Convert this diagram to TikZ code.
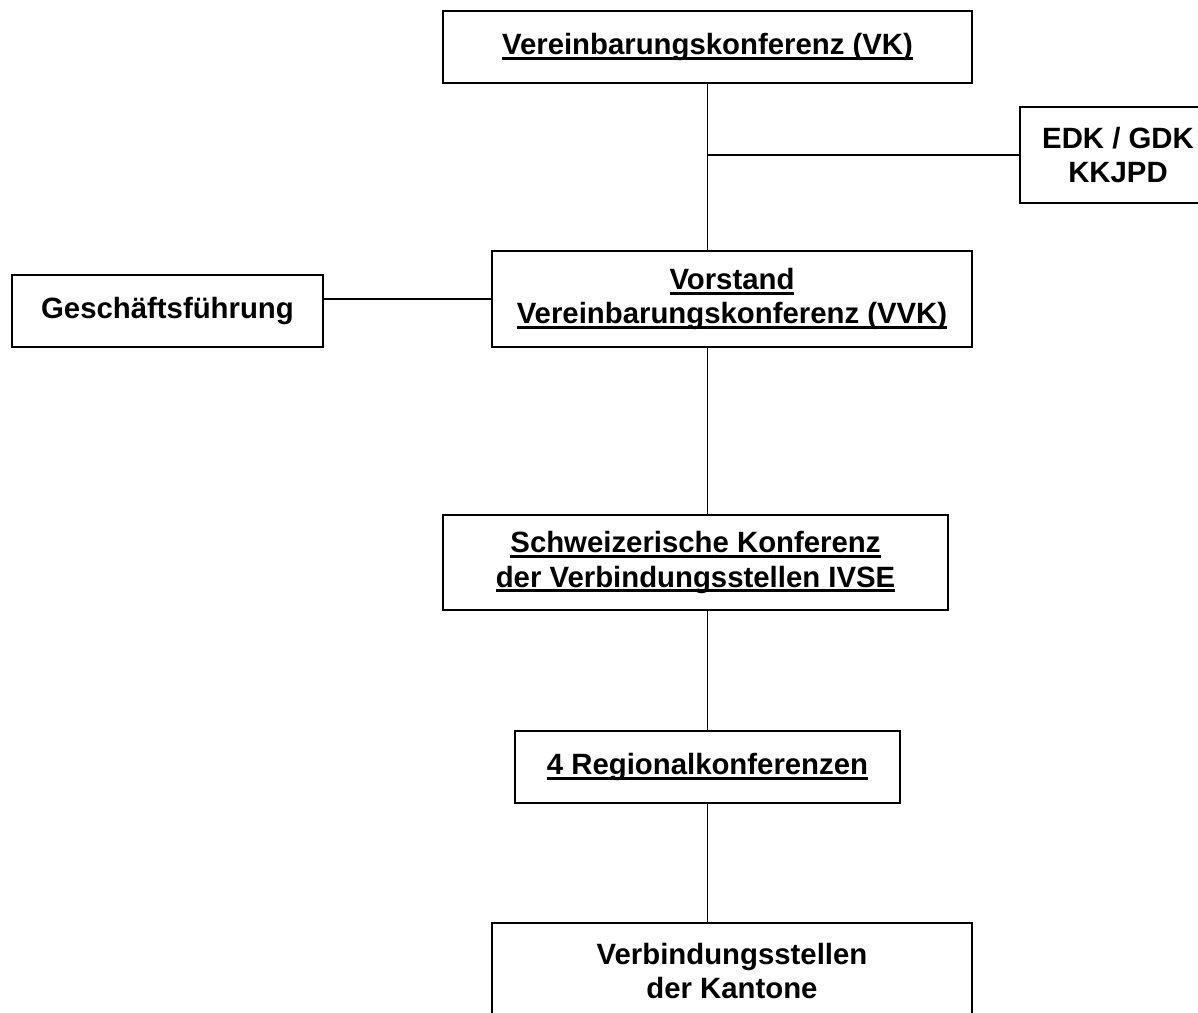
\documentclass[tikz,border=0pt]{standalone}
\usepackage{fontspec}
\setmainfont{Liberation Sans}
\newsavebox{\ulsave}
\newcommand{\undl}[1]{\sbox{\ulsave}{#1}\rlap{\rule[-0.18em]{\wd\ulsave}{0.11em}}\usebox{\ulsave}}

\begin{document}
\begin{tikzpicture}[x=0.02cm, y=-0.02cm,
  orgbox/.style={draw, line width=1.5pt, align=center, inner sep=0pt,
    font=\fontsize{16.7}{19.4}\selectfont\bfseries},
  link/.style={line width=1.1pt}]
\clip (0,0) rectangle (1198,1013);
% Boxes
\node[orgbox, minimum width=529*0.02cm, minimum height=72*0.02cm] (vk) at (707.5,47) {\undl{Vereinbarungskonferenz (VK)}};
\node[orgbox, minimum width=196*0.02cm, minimum height=96*0.02cm] (edk) at (1118,155) {EDK / GDK\\KKJPD};
\node[orgbox, minimum width=480*0.02cm, minimum height=96*0.02cm] (vvk) at (732,299) {\undl{Vorstand}\\\undl{Vereinbarungskonferenz (VVK)}};
\node[orgbox, minimum width=311*0.02cm, minimum height=72*0.02cm] (gf) at (167.5,311) {Geschäftsführung};
\node[orgbox, minimum width=505*0.02cm, minimum height=95*0.02cm] (ivse) at (695.5,562.5) {\undl{Schweizerische Konferenz}\\\undl{der Verbindungsstellen IVSE}};
\node[orgbox, minimum width=385*0.02cm, minimum height=72*0.02cm] (reg) at (707.5,767) {\undl{4 Regionalkonferenzen}};
\node[orgbox, minimum width=480*0.02cm, minimum height=96*0.02cm] (vs) at (732,971) {Verbindungsstellen\\der Kantone};

% Lines
\draw[link] (vk.south) -- (vk.south |- vvk.north);
\draw[link] (vk.south |- edk.west) -- (edk.west);
\draw[link] (vvk.west) -- (vvk.west -| gf.east);
\draw[link] (vk.south |- vvk.south) -- (vk.south |- ivse.north);
\draw[link] (vk.south |- ivse.south) -- (vk.south |- reg.north);
\draw[link] (reg.south) -- (reg.south |- vs.north);
\end{tikzpicture}
\end{document}
